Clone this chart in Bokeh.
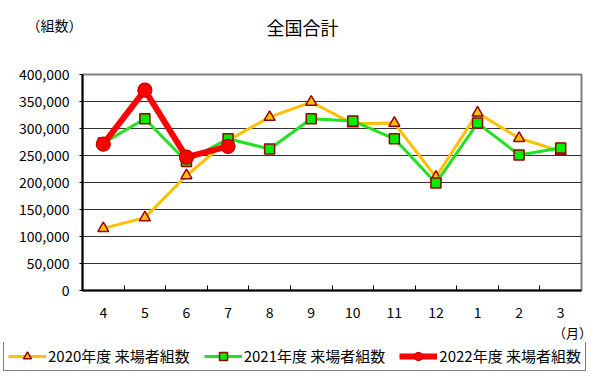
from bokeh.plotting import figure
from bokeh.layouts import column
from bokeh.models import (FixedTicker, NumeralTickFormatter, Range1d, Legend, LegendItem,
                          Label, ColumnDataSource)
from bokeh.embed import file_html
from bokeh.resources import INLINE

months = ["4", "5", "6", "7", "8", "9", "10", "11", "12", "1", "2", "3"]
y2020 = [115000, 135000, 213000, 278000, 321000, 349000, 309000, 310000, 210000, 329000, 282000, 258000]
y2021 = [273000, 318000, 239000, 281000, 262000, 318000, 314000, 281000, 199000, 310000, 251000, 264000]
y2022 = [271000, 371000, 247000, 267000]
series_names = ["2020年度 来場者組数", "2021年度 来場者組数", "2022年度 来場者組数"]
y_ticks = [0, 50000, 100000, 150000, 200000, 250000, 300000, 350000, 400000]

FONT = "Noto Sans CJK JP"

xs = [i + 0.5 for i in range(len(months))]

p = figure(width=595, height=342, output_backend="svg", toolbar_location=None,
           x_range=Range1d(0, len(months)), y_range=Range1d(0, 400000))
p.min_border_left = 82
p.min_border_right = 14
p.min_border_top = 74
p.min_border_bottom = 52
p.frame_align = False
p.background_fill_color = "white"
p.border_fill_color = "white"
p.outline_line_color = "#808080"
p.outline_line_width = 2

# axes
p.xaxis.ticker = FixedTicker(ticks=xs, minor_ticks=list(range(1, len(months))))
p.xaxis.major_label_overrides = {x: m for x, m in zip(xs, months)}
p.xaxis.major_tick_line_color = None
p.xaxis.major_tick_in = 0
p.xaxis.major_tick_out = 0
p.xaxis.minor_tick_in = 5
p.xaxis.minor_tick_out = 0
p.xaxis.minor_tick_line_color = "black"
p.xaxis.axis_line_color = "black"
p.xaxis.axis_line_width = 2
p.xaxis.major_label_standoff = 16
p.xaxis.major_label_text_font = FONT
p.xaxis.major_label_text_font_size = "14px"
p.xaxis.major_label_text_color = "black"

p.yaxis.ticker = FixedTicker(ticks=y_ticks)
p.yaxis.formatter = NumeralTickFormatter(format="0,0")
p.yaxis.axis_line_color = "black"
p.yaxis.axis_line_width = 2
p.yaxis.major_tick_in = 0
p.yaxis.major_tick_out = 3
p.yaxis.minor_tick_line_color = None
p.yaxis.major_label_standoff = 10
p.yaxis.major_label_text_font = FONT
p.yaxis.major_label_text_font_size = "14px"
p.yaxis.major_label_text_color = "black"

p.xgrid.grid_line_color = None
p.ygrid.ticker = FixedTicker(ticks=y_ticks)
p.ygrid.grid_line_color = "#333333"
p.ygrid.grid_line_width = 1

# series
s20 = ColumnDataSource(dict(x=xs, y=y2020))
s21 = ColumnDataSource(dict(x=xs, y=y2021))
s22 = ColumnDataSource(dict(x=xs[:len(y2022)], y=y2022))

STY = [
    (dict(line_color="#FFC000", line_width=3),
     dict(marker="triangle", size=11, fill_color="#FFC000", line_color="#990000", line_width=1.5)),
    (dict(line_color="#22E022", line_width=3),
     dict(marker="square", size=10, fill_color="#00EE00", line_color="#990000", line_width=1.5)),
    (dict(line_color="#FF0000", line_width=6),
     dict(marker="circle", size=14, fill_color="#FF0000", line_color="#C00000", line_width=1.2)),
]
sources = [s20, s21, s22]

for src, (ls, ms) in zip(sources, STY):
    p.line("x", "y", source=src, **ls)
    p.scatter("x", "y", source=src, **ms)

# top texts (side panels are not clipped to the frame)
p.add_layout(Label(x=220, y=48, x_units="screen", y_units="screen", text="全国合計",
                   text_font=FONT, text_font_size="18px", text_align="center",
                   text_baseline="middle", text_color="black"), "above")
p.add_layout(Label(x=-28, y=24, x_units="screen", y_units="screen", text="（組数）",
                   text_font=FONT, text_font_size="14px", text_align="center",
                   text_baseline="middle", text_color="black"), "above")
p.add_layout(Label(x=490, y=7, x_units="screen", y_units="screen", text="（月）",
                   text_font=FONT, text_font_size="13px", text_align="center",
                   text_baseline="middle", text_color="black"), "below")

# legend strip: same series drawn outside its visible range, legend inside
q = figure(width=595, height=35, output_backend="svg", toolbar_location=None,
           x_range=Range1d(0, len(months)), y_range=Range1d(-2, -1),
           x_axis_location=None, y_axis_location=None)
q.min_border_left = 0
q.min_border_right = 0
q.min_border_top = 0
q.min_border_bottom = 0
q.frame_align = False
q.outline_line_color = None
q.grid.grid_line_color = None
q.background_fill_color = "white"
q.border_fill_color = "white"
items = []
for name, src, (ls, ms) in zip(series_names, sources, STY):
    lr = q.line("x", "y", source=src, **ls)
    mr = q.scatter("x", "y", source=src, **ms)
    items.append(LegendItem(label=name, renderers=[lr, mr]))

legend = Legend(items=items, orientation="horizontal", location=(3, 6))
legend.label_text_font = FONT
legend.label_text_font_size = "15px"
legend.label_text_color = "black"
legend.glyph_width = 38
legend.glyph_height = 20
legend.label_standoff = 2
legend.spacing = 14
legend.padding = 4
legend.margin = 0
legend.border_line_color = "black"
legend.border_line_width = 1
legend.background_fill_alpha = 1
q.add_layout(legend, "center")

layout = column(p, q, spacing=0)
open("out.html", "w").write(file_html(layout, INLINE))
